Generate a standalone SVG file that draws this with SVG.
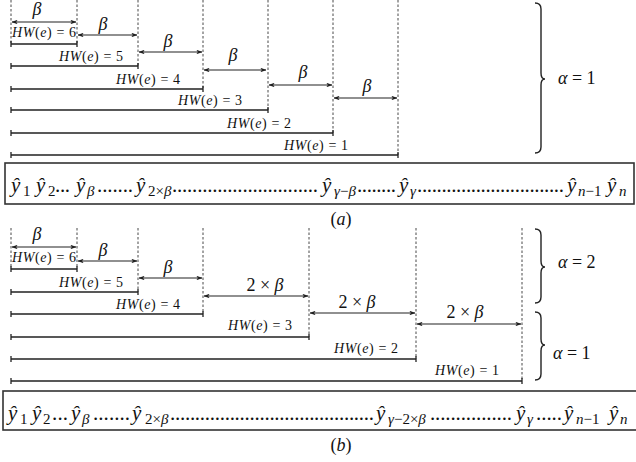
<svg xmlns="http://www.w3.org/2000/svg" width="636" height="462" viewBox="0 0 636 462">
<style>
.m{font-family:"Liberation Serif","DejaVu Serif",serif;fill:#111}
.i{font-style:italic}
.hw{font-size:14px}
.bt{font-size:18px}
.al{font-size:18px}
.yl{font-size:21px}
.sub{font-size:15px}
.dash{stroke:#333;stroke-width:0.9;stroke-dasharray:2.5 2;fill:none}
.seg{stroke:#222;stroke-width:1.3;fill:none}
.arr{stroke:#222;stroke-width:1.1;fill:none;marker-start:url(#ah);marker-end:url(#ah)}
.brace{stroke:#222;stroke-width:1.4;fill:none}
.box{stroke:#333;stroke-width:1.6;fill:#fff}
</style>
<defs>
<marker id="ah" viewBox="0 0 8 6" refX="7.5" refY="3" markerWidth="6" markerHeight="4.5" orient="auto-start-reverse" markerUnits="userSpaceOnUse">
<path d="M0,0 L8,3 L0,6 L2,3 Z" fill="#222"/>
</marker>
</defs>
<rect width="636" height="462" fill="#fff"/>

<!-- ===== Part (a) ===== -->
<g id="guides-a">
<path class="dash" d="M11,0V44M77,0V44M138,0V66M203,0V89M268,0V110M333,0V133M398,0V155"/>
</g>
<g id="connectors">
<path class="arr" d="M12,22H76"/>
<path class="arr" d="M78,35H137"/>
<path class="arr" d="M139,52H202"/>
<path class="arr" d="M204,70H266"/>
<path class="arr" d="M269,85H332"/>
<path class="arr" d="M334,98H397"/>
<path class="seg" d="M11,41V47M11,44H77M77,41V47"/>
<path class="seg" d="M11,63V69M11,66H138M138,63V69"/>
<path class="seg" d="M11,86V92M11,89H203M203,86V92"/>
<path class="seg" d="M11,107V113M11,110H268M268,107V113"/>
<path class="seg" d="M11,130V136M11,133H333M333,130V136"/>
<path class="seg" d="M11,152V158M11,155H398M398,152V158"/>
<path class="arr" d="M12,247H76"/>
<path class="arr" d="M78,261H137"/>
<path class="arr" d="M139,278H202"/>
<path class="arr" d="M204,296H308"/>
<path class="arr" d="M310,313H415"/>
<path class="arr" d="M417,324H521"/>
<path class="seg" d="M11,266V272M11,269H77M77,266V272"/>
<path class="seg" d="M11,289V295M11,292H138M138,289V295"/>
<path class="seg" d="M11,311V317M11,314H203M203,311V317"/>
<path class="seg" d="M11,334V340M11,337H309M309,334V340"/>
<path class="seg" d="M11,356V362M11,359H416M416,356V362"/>
<path class="seg" d="M11,378V384M11,381H522M522,378V384"/>
</g>

<g id="labels-a">
<text class="m bt i" x="37" y="15" text-anchor="middle">β</text>
<text class="m bt i" x="103" y="30" text-anchor="middle">β</text>
<text class="m bt i" x="168" y="47" text-anchor="middle">β</text>
<text class="m bt i" x="233" y="61" text-anchor="middle">β</text>
<text class="m bt i" x="303" y="78" text-anchor="middle">β</text>
<text class="m bt i" x="367" y="92" text-anchor="middle">β</text>
<text class="m hw" x="44" y="37" text-anchor="middle" textLength="64"><tspan class="i">HW</tspan>(<tspan class="i">e</tspan>) = 6</text>
<text class="m hw" x="91" y="61" text-anchor="middle" textLength="64"><tspan class="i">HW</tspan>(<tspan class="i">e</tspan>) = 5</text>
<text class="m hw" x="148" y="84" text-anchor="middle" textLength="64"><tspan class="i">HW</tspan>(<tspan class="i">e</tspan>) = 4</text>
<text class="m hw" x="210" y="105" text-anchor="middle" textLength="64"><tspan class="i">HW</tspan>(<tspan class="i">e</tspan>) = 3</text>
<text class="m hw" x="259" y="128" text-anchor="middle" textLength="64"><tspan class="i">HW</tspan>(<tspan class="i">e</tspan>) = 2</text>
<text class="m hw" x="316" y="150" text-anchor="middle" textLength="64"><tspan class="i">HW</tspan>(<tspan class="i">e</tspan>) = 1</text>
</g>

<g id="brace-a">
<path class="brace" d="M535,3Q541,3 541,9L541,73Q541,79 545,79Q541,79 541,85L541,147Q541,153 535,153"/>
<text class="m al" x="558" y="84"><tspan class="i">α</tspan> = 1</text>
</g>

<g id="sequence-a">
<rect class="box" x="5" y="163" width="629" height="41"/>
<text class="m yl">
<tspan class="i" x="11" y="192">ŷ</tspan><tspan class="sub" x="23" y="196">1</tspan>
<tspan class="i" x="36" y="192">ŷ</tspan><tspan class="sub" x="48" y="196">2</tspan>
<tspan x="55" y="192" textLength="15">...</tspan>
<tspan class="i" x="76" y="192">ŷ</tspan><tspan class="sub i" x="87" y="196">β</tspan>
<tspan x="97" y="192" textLength="36">.......</tspan>
<tspan class="i" x="136" y="192">ŷ</tspan><tspan class="sub" x="148" y="196">2×<tspan class="i">β</tspan></tspan>
<tspan x="172" y="192" textLength="146">.............................</tspan>
<tspan class="i" x="322" y="192">ŷ</tspan><tspan class="sub i" x="334" y="196">γ<tspan font-style="normal">−</tspan>β</tspan>
<tspan x="357" y="192" textLength="39">........</tspan>
<tspan class="i" x="399" y="192">ŷ</tspan><tspan class="sub i" x="410" y="196">γ</tspan>
<tspan x="417" y="192" textLength="147">..............................</tspan>
<tspan class="i" x="567" y="192">ŷ</tspan><tspan class="sub i" x="578" y="196">n<tspan font-style="normal">−1</tspan></tspan>
<tspan class="i" x="607" y="192">ŷ</tspan><tspan class="sub i" x="619" y="196">n</tspan>
</text>
<text class="m al" x="341" y="225" text-anchor="middle">(<tspan class="i">a</tspan>)</text>
</g>

<!-- ===== Part (b) ===== -->
<g id="guides-b">
<path class="dash" d="M11,228V269M77,228V269M138,228V292M203,228V314M309,228V337M416,228V359M522,228V381"/>
</g>

<g id="labels-b">
<text class="m bt i" x="37" y="240" text-anchor="middle">β</text>
<text class="m bt i" x="103" y="256" text-anchor="middle">β</text>
<text class="m bt i" x="168" y="273" text-anchor="middle">β</text>
<text class="m bt" x="265" y="291" text-anchor="middle">2 × <tspan class="i">β</tspan></text>
<text class="m bt" x="357" y="308" text-anchor="middle">2 × <tspan class="i">β</tspan></text>
<text class="m bt" x="465" y="318" text-anchor="middle">2 × <tspan class="i">β</tspan></text>
<text class="m hw" x="44" y="262" text-anchor="middle" textLength="64"><tspan class="i">HW</tspan>(<tspan class="i">e</tspan>) = 6</text>
<text class="m hw" x="91" y="287" text-anchor="middle" textLength="64"><tspan class="i">HW</tspan>(<tspan class="i">e</tspan>) = 5</text>
<text class="m hw" x="148" y="309" text-anchor="middle" textLength="64"><tspan class="i">HW</tspan>(<tspan class="i">e</tspan>) = 4</text>
<text class="m hw" x="260" y="330" text-anchor="middle" textLength="64"><tspan class="i">HW</tspan>(<tspan class="i">e</tspan>) = 3</text>
<text class="m hw" x="366" y="353" text-anchor="middle" textLength="64"><tspan class="i">HW</tspan>(<tspan class="i">e</tspan>) = 2</text>
<text class="m hw" x="467" y="375" text-anchor="middle" textLength="64"><tspan class="i">HW</tspan>(<tspan class="i">e</tspan>) = 1</text>
</g>

<g id="brace-b2">
<path class="brace" d="M535,229Q541,229 541,235L541,261Q541,267 545,267Q541,267 541,273L541,297Q541,303 535,303"/>
<text class="m al" x="558" y="268"><tspan class="i">α</tspan> = 2</text>
</g>
<g id="brace-b1">
<path class="brace" d="M535,312Q541,312 541,318L541,339Q541,345 545,345Q541,345 541,351L541,374Q541,380 535,380"/>
<text class="m al" x="553" y="359"><tspan class="i">α</tspan> = 1</text>
</g>

<g id="sequence-b">
<rect class="box" x="3" y="391" width="640" height="39"/>
<text class="m yl">
<tspan class="i" x="8" y="420">ŷ</tspan><tspan class="sub" x="20" y="424">1</tspan>
<tspan class="i" x="32" y="420">ŷ</tspan><tspan class="sub" x="43" y="424">2</tspan>
<tspan x="52" y="420" textLength="16">...</tspan>
<tspan class="i" x="71" y="420">ŷ</tspan><tspan class="sub i" x="82" y="424">β</tspan>
<tspan x="93" y="420" textLength="37">.......</tspan>
<tspan class="i" x="132" y="420">ŷ</tspan><tspan class="sub" x="145" y="424">2×<tspan class="i">β</tspan></tspan>
<tspan x="170" y="420" textLength="204">.........................................</tspan>
<tspan class="i" x="376" y="420">ŷ</tspan><tspan class="sub i" x="388" y="424">γ<tspan font-style="normal">−2×</tspan>β</tspan>
<tspan x="430" y="420" textLength="82">................</tspan>
<tspan class="i" x="516" y="420">ŷ</tspan><tspan class="sub i" x="527" y="424">γ</tspan>
<tspan x="536" y="420" textLength="26">.....</tspan>
<tspan class="i" x="564" y="420">ŷ</tspan><tspan class="sub i" x="576" y="424">n<tspan font-style="normal">−1</tspan></tspan>
<tspan class="i" x="609" y="420">ŷ</tspan><tspan class="sub i" x="620" y="424">n</tspan>
</text>
<text class="m al" x="341" y="451" text-anchor="middle">(<tspan class="i">b</tspan>)</text>
</g>
</svg>
